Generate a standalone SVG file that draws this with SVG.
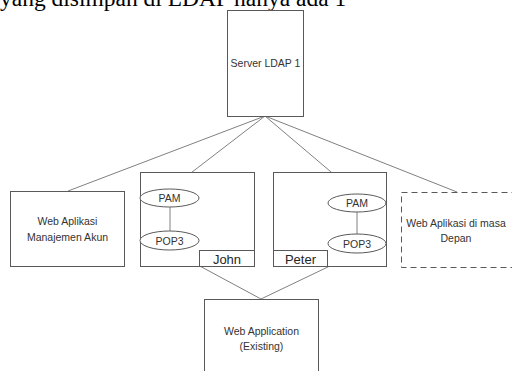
<svg xmlns="http://www.w3.org/2000/svg" width="512" height="371" viewBox="0 0 512 371">
<style>
.box{fill:#fff;stroke:#595959;stroke-width:1}
.dash{fill:#fff;stroke:#595959;stroke-width:1;stroke-dasharray:6 4}
.el{fill:#fff;stroke:#595959;stroke-width:1}
.ln{stroke:#808080;stroke-width:1;fill:none}
.t{font-family:"Liberation Sans",Arial,sans-serif;font-size:10.5px;fill:#333;text-anchor:middle}
.lbl{font-family:"Liberation Sans",Arial,sans-serif;font-size:13px;fill:#262626;text-anchor:middle}
.top{font-family:"Liberation Serif","Times New Roman",serif;font-size:23.5px;fill:#000}
</style>
<rect width="512" height="371" fill="#fff"/>
<text class="top" x="0" y="6">yang disimpan di LDAP  hanya ada 1</text>
<g id="connectors">
<line class="ln" x1="265" y1="116" x2="68" y2="191"/>
<line class="ln" x1="265" y1="116" x2="170" y2="189"/>
<line class="ln" x1="265" y1="116" x2="357" y2="194"/>
<line class="ln" x1="265" y1="116" x2="457" y2="192"/>
<line class="ln" x1="170" y1="250" x2="261" y2="299"/>
<line class="ln" x1="357" y1="253" x2="261" y2="299"/>
</g>
<g id="server">
<rect class="box" x="227.5" y="10.5" width="76" height="106"/>
<text class="t" x="265.5" y="66.5">Server LDAP 1</text>
</g>
<g id="webManajemen">
<rect class="box" x="10.5" y="191.5" width="114" height="75"/>
<text class="t" x="67.5" y="225">Web Aplikasi</text>
<text class="t" x="67.5" y="241">Manajemen Akun</text>
</g>
<g id="john">
<rect class="box" x="140.5" y="172.5" width="114" height="94"/>
<line class="ln" x1="170" y1="207" x2="170" y2="231"/>
<ellipse class="el" cx="169.5" cy="198" rx="29.5" ry="9"/>
<text class="t" x="169.5" y="202">PAM</text>
<ellipse class="el" cx="169.5" cy="240.5" rx="29.5" ry="9.5"/>
<text class="t" x="169.5" y="244.5">POP3</text>
<rect class="box" x="199.5" y="250.5" width="55" height="16"/>
<text class="lbl" x="227" y="263.5">John</text>
</g>
<g id="peter">
<rect class="box" x="273.5" y="172.5" width="113" height="94"/>
<line class="ln" x1="357" y1="212" x2="357" y2="234"/>
<ellipse class="el" cx="357" cy="203" rx="29" ry="9"/>
<text class="t" x="357" y="207">PAM</text>
<ellipse class="el" cx="357" cy="243.5" rx="29" ry="9.5"/>
<text class="t" x="357" y="247.5">POP3</text>
<rect class="box" x="273.5" y="250.5" width="54" height="16"/>
<text class="lbl" x="300.5" y="263.5">Peter</text>
</g>
<g id="webDepan">
<rect class="dash" x="401.5" y="192.5" width="115" height="75"/>
<text class="t" x="456" y="226.5">Web Aplikasi di masa</text>
<text class="t" x="456" y="242">Depan</text>
</g>
<g id="webApp">
<rect class="box" x="204.5" y="299.5" width="114" height="80"/>
<text class="t" x="261.5" y="334.5">Web Application</text>
<text class="t" x="261.5" y="350">(Existing)</text>
</g>
</svg>
